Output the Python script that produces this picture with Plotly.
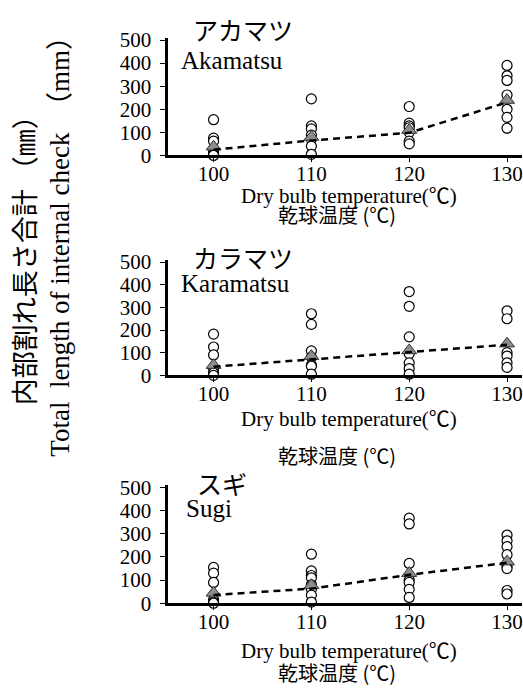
import plotly.graph_objects as go

# dry bulb temperatures (x categories)
temps = [100, 110, 120, 130]

# individual internal-check lengths (mm), one list per temperature
aka_obs = [[155, 75, 62, 15, 5, 0],
           [245, 128, 115, 88, 70, 40, 5],
           [212, 140, 128, 120, 100, 62, 50],
           [390, 345, 325, 262, 200, 165, 118]]
aka_mean = [38, 80, 110, 240]
aka_trend = [25, 65, 98, 230]

kara_obs = [[182, 125, 90, 30, 10, 0],
            [272, 225, 108, 80, 45, 40, 5],
            [370, 305, 170, 95, 55, 30, 5],
            [285, 250, 100, 85, 55, 35]]
kara_mean = [45, 85, 110, 140]
kara_trend = [38, 70, 100, 135]

sugi_obs = [[155, 130, 90, 15, 5, 0],
            [212, 140, 120, 110, 80, 60, 35, 5],
            [368, 343, 172, 100, 90, 60, 25],
            [295, 270, 245, 210, 160, 150, 55, 40]]
sugi_mean = [45, 78, 130, 180]
sugi_trend = [36, 63, 123, 175]

y_ticks = [0, 100, 200, 300, 400, 500]

species = [("アカマツ", "Akamatsu", aka_obs, aka_mean, aka_trend),
           ("カラマツ", "Karamatsu", kara_obs, kara_mean, kara_trend),
           ("スギ", "Sugi", sugi_obs, sugi_mean, sugi_trend)]

W, H = 523, 697
SERIF = "Liberation Serif, Noto Sans CJK JP, serif"
CJK = "Noto Sans CJK JP, sans-serif"
YMAX = 510

# pixel rows of each panel: y pixel of value 0 and of value 500
panel_px = [(151, 32), (377.7, 261), (612.7, 493.5)]
# pixel rows of text under/over each panel
title_px = [(21, 53), (256, 283), (489, 515)]
xlab_px = [(193, 212), (423, 460), (662, 684)]
title_x = [(243, 179), (243, 179), (222, 184)]

def px(x, y):
    return x / W, 1 - y / H

fig = go.Figure()
layout = {}
annotations = []

for i, (jp, en, obs, mean, trend) in enumerate(species):
    n = "" if i == 0 else str(i + 1)
    xs, ys = [], []
    for t, vals in zip(temps, obs):
        xs += [t] * len(vals)
        ys += vals
    # individual boards
    fig.add_trace(go.Scatter(
        x=xs, y=ys, mode="markers", xaxis="x" + n, yaxis="y" + n,
        marker=dict(symbol="circle", size=10, color="white",
                    line=dict(color="black", width=1.2)),
        cliponaxis=False, showlegend=False))
    # means
    fig.add_trace(go.Scatter(
        x=temps, y=mean, mode="markers", xaxis="x" + n, yaxis="y" + n,
        marker=dict(symbol="triangle-up", size=13, color="#8c8c8c",
                    line=dict(color="#333333", width=1)),
        cliponaxis=False, showlegend=False))
    # trend line
    fig.add_trace(go.Scatter(
        x=temps, y=trend, mode="lines", xaxis="x" + n, yaxis="y" + n,
        line=dict(color="black", width=2.5, dash="7px,5px"),
        cliponaxis=False, showlegend=False))

    y0, y500 = panel_px[i]
    ytop = y0 - (y0 - y500) * YMAX / 500
    layout["xaxis" + n] = dict(
        domain=[168.5 / W, 1], range=[95.36, 131.53], anchor="y" + n,
        tickvals=temps, ticks="outside", ticklen=4, tickcolor="black",
        showline=True, linecolor="black", linewidth=2.5, showgrid=False,
        zeroline=False, ticklabelstandoff=-6, ticklabeloverflow="allow",
        tickfont=dict(family=SERIF, size=21, color="black"))
    layout["yaxis" + n] = dict(
        domain=[1 - y0 / H, 1 - ytop / H], range=[0, YMAX], anchor="x" + n,
        tickvals=y_ticks, ticks="outside", ticklen=5, tickcolor="black",
        showline=True, linecolor="black", linewidth=2.5, showgrid=False,
        zeroline=False, ticklabelstandoff=5,
        tickfont=dict(family=SERIF, size=21, color="black"))

    ax, ay = px(title_x[i][0], title_px[i][0])
    annotations.append(dict(x=ax, y=ay, xref="paper", yref="paper", text=jp,
                            showarrow=False, xanchor="center", yanchor="middle",
                            font=dict(family=CJK, size=25, color="black")))
    ax, ay = px(title_x[i][1], title_px[i][1])
    annotations.append(dict(x=ax, y=ay, xref="paper", yref="paper", text=en,
                            showarrow=False, xanchor="left", yanchor="middle",
                            font=dict(family=SERIF, size=25, color="black")))
    ax, ay = px(350, xlab_px[i][0])
    annotations.append(dict(x=ax, y=ay, xref="paper", yref="paper",
                            text="Dry bulb temperature(℃)", showarrow=False,
                            xanchor="center", yanchor="middle",
                            font=dict(family=SERIF, size=21, color="black")))
    ax, ay = px(338, xlab_px[i][1])
    annotations.append(dict(x=ax, y=ay, xref="paper", yref="paper",
                            text="乾球温度 (℃)", showarrow=False,
                            xanchor="center", yanchor="middle",
                            font=dict(family=CJK, size=20, color="black")))

# shared y-axis titles (rotated)
ax, ay = px(23, 252)
annotations.append(dict(x=ax, y=ay, xref="paper", yref="paper",
                        text="内部割れ長さ合計 （㎜）", textangle=-90,
                        showarrow=False, xanchor="center", yanchor="middle",
                        font=dict(family=CJK, size=27, color="black")))
ax, ay = px(60, 238)
annotations.append(dict(x=ax, y=ay, xref="paper", yref="paper",
                        text="Total&nbsp; length of internal check&nbsp; （mm）",
                        textangle=-90,
                        showarrow=False, xanchor="center", yanchor="middle",
                        font=dict(family=SERIF, size=27, color="black")))

fig.update_layout(
    width=W, height=H, margin=dict(l=0, r=0, t=0, b=0),
    paper_bgcolor="white", plot_bgcolor="white",
    annotations=annotations, **layout)

# drop the browser's default page margin so the figure sits at the top-left
fig.write_html("out.html", config={"displayModeBar": False},
               post_script="document.body.style.margin='0';")
